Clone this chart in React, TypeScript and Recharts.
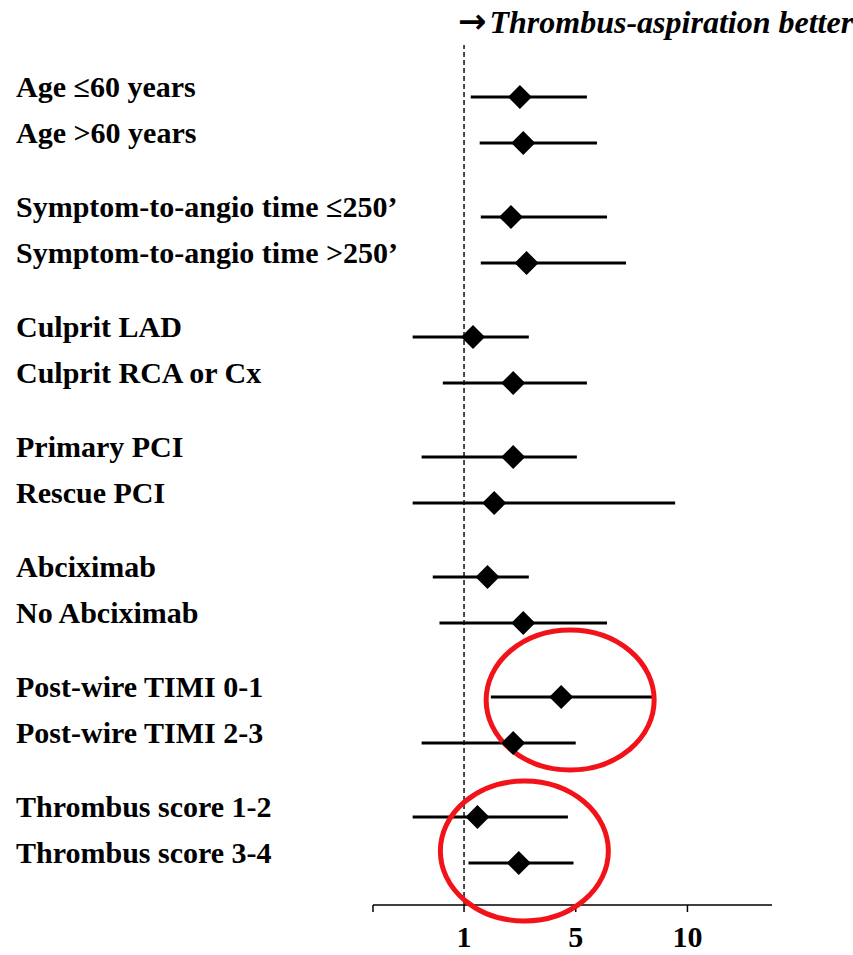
import { ScatterChart, Scatter, XAxis, YAxis, ErrorBar, ReferenceLine, ReferenceDot } from "recharts";

// subgroup rows, top to bottom (they come in pairs)
const subgroups = [
  "Age ≤60 years",
  "Age >60 years",
  "Symptom-to-angio time ≤250’",
  "Symptom-to-angio time >250’",
  "Culprit LAD",
  "Culprit RCA or Cx",
  "Primary PCI",
  "Rescue PCI",
  "Abciximab",
  "No Abciximab",
  "Post-wire TIMI 0-1",
  "Post-wire TIMI 2-3",
  "Thrombus score 1-2",
  "Thrombus score 3-4",
];

// values in axis units: tick "1" sits at 1, tick "5" at 2, tick "10" at 3
const estimate = [1.5, 1.53, 1.42, 1.56, 1.08, 1.44, 1.44, 1.27, 1.21, 1.53, 1.87, 1.44, 1.12, 1.49];
const ciLow = [1.06, 1.14, 1.15, 1.15, 0.54, 0.81, 0.62, 0.54, 0.72, 0.78, 1.24, 0.62, 0.54, 1.04];
const ciHigh = [2.1, 2.19, 2.28, 2.45, 1.58, 2.1, 2.01, 2.89, 1.58, 2.28, 2.71, 2.0, 1.93, 1.98];

const xTicks = [1, 2, 3];
const xTickLabels = ["1", "5", "10"];

const FONT = '"Liberation Serif", "Times New Roman", serif';
const GROUP_STEP = 120;
const ROW_STEP = 46;
const X_MIN = 0.185;
const X_MAX = 3.757;

const rowY = (i: number) => Math.floor(i / 2) * GROUP_STEP + (i % 2) * ROW_STEP;

const rows = subgroups.map((label, i) => ({
  label,
  est: estimate[i],
  y: rowY(i),
  ci: [estimate[i] - ciLow[i], ciHigh[i] - estimate[i]],
}));

// red circles drawn round the highlighted subgroups
const highlights = [
  { x: 1.95, y: rowY(10) + 3 },
  { x: 1.54, y: rowY(13) - 12 },
];

function Diamond(props: any) {
  const { cx, cy } = props;
  const h = 12;
  return (
    <polygon
      points={`${cx - h},${cy} ${cx},${cy - h} ${cx + h},${cy} ${cx},${cy + h}`}
      fill="#000"
    />
  );
}

function RowLabel(props: any) {
  const { y, index } = props;
  return (
    <text x={16} y={y} fontFamily={FONT} fontWeight="bold" fontSize={30} fill="#000" textAnchor="start">
      {subgroups[index]}
    </text>
  );
}

function XTick(props: any) {
  const { x, y, payload } = props;
  const idx = xTicks.indexOf(payload.value);
  if (idx < 0) return null;
  return (
    <text x={x} y={y + 33} fontFamily={FONT} fontWeight="bold" fontSize={30} fill="#000" textAnchor="middle">
      {xTickLabels[idx]}
    </text>
  );
}

export default function App() {
  return (
    <div style={{ position: "relative", width: 853, height: 955, background: "#fff" }}>
      <style>{`body{margin:0}`}</style>
      <ScatterChart width={853} height={955} margin={{ top: 45, right: 81, bottom: 0, left: 0 }}>
        <XAxis
          type="number"
          dataKey="est"
          domain={[X_MIN, X_MAX]}
          ticks={[X_MIN, ...xTicks]}
          interval={0}
          height={50}
          axisLine={{ stroke: "#000", strokeWidth: 1.5 }}
          tickLine={{ stroke: "#000", strokeWidth: 1.5 }}
          tickSize={7}
          tick={<XTick />}
        />
        <YAxis
          type="number"
          dataKey="y"
          domain={[-52, 808]}
          reversed
          ticks={rows.map((r) => r.y)}
          interval={0}
          width={373}
          axisLine={false}
          tickLine={false}
          tick={<RowLabel />}
        />
        <ReferenceLine x={1} stroke="#111" strokeWidth={1.5} strokeDasharray="5 3" />
        {highlights.map((h, i) => (
          <ReferenceDot
            key={i}
            x={h.x}
            y={h.y}
            ifOverflow="visible"
            shape={(p: any) => (
              <ellipse cx={p.cx} cy={p.cy} rx={84} ry={70} fill="none" stroke="#f2131a" strokeWidth={5} />
            )}
          />
        ))}
        <Scatter data={rows} shape={<Diamond />} isAnimationActive={false}>
          <ErrorBar dataKey="ci" direction="x" width={0} stroke="#000" strokeWidth={3} />
        </Scatter>
      </ScatterChart>
      <div
        style={{
          position: "absolute",
          left: 458,
          top: 1,
          fontFamily: FONT,
          fontWeight: "bold",
          fontStyle: "italic",
          fontSize: 32,
          whiteSpace: "nowrap",
          color: "#000",
        }}
      >
        <span style={{ fontFamily: '"DejaVu Sans", sans-serif', fontStyle: "normal", fontSize: 34, marginRight: 3 }}>→</span>
        Thrombus-aspiration better
      </div>
    </div>
  );
}
